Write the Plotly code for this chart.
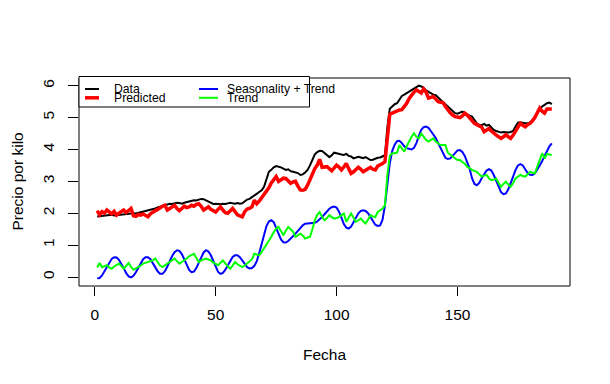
import plotly.graph_objects as go

# ---------------- data ----------------
fecha = list(range(1, 190))

data_vals = [
    1.90, 1.91, 1.92, 1.93, 1.92, 1.94, 1.95, 1.93, 1.94, 1.95,
    1.96, 1.95, 1.97, 1.98, 1.99, 2.00, 1.99, 2.01, 2.02, 2.03,
    2.05, 2.08, 2.10, 2.12, 2.15, 2.18, 2.20, 2.22, 2.25, 2.28,
    2.30, 2.29, 2.31, 2.33, 2.32, 2.30, 2.33, 2.35, 2.37, 2.40,
    2.41, 2.40, 2.43, 2.45, 2.44, 2.40, 2.35, 2.31, 2.29, 2.30,
    2.29, 2.28, 2.30, 2.29, 2.31, 2.33, 2.31, 2.30, 2.32, 2.30,
    2.31, 2.36, 2.43, 2.45, 2.50, 2.57, 2.62, 2.66, 2.72, 2.83,
    3.05, 3.30, 3.36, 3.44, 3.48, 3.47, 3.44, 3.40, 3.36, 3.38,
    3.32, 3.30, 3.28, 3.26, 3.20, 3.22, 3.28, 3.36, 3.50, 3.68,
    3.85, 3.92, 3.96, 3.95, 3.88, 3.80, 3.76, 3.82, 3.90, 3.88,
    3.85, 3.84, 3.83, 3.86, 3.80, 3.78, 3.72, 3.75, 3.77, 3.75,
    3.73, 3.76, 3.70, 3.67, 3.68, 3.72, 3.74, 3.75, 3.78, 3.82,
    4.70, 5.28, 5.35, 5.42, 5.45, 5.55, 5.68, 5.72, 5.77, 5.80,
    5.85, 5.92, 5.96, 6.00, 5.98, 5.93, 5.85, 5.80, 5.76, 5.72,
    5.70, 5.62, 5.55, 5.48, 5.42, 5.35, 5.28, 5.20, 5.14, 5.12,
    5.16, 5.19, 5.15, 5.10, 5.06, 5.03, 4.92, 4.82, 4.77, 4.76,
    4.80, 4.75, 4.77, 4.70, 4.61, 4.58, 4.55, 4.53, 4.55, 4.54,
    4.53, 4.55, 4.58, 4.72, 4.84, 4.85, 4.83, 4.82, 4.82, 4.85,
    4.92, 5.03, 5.15, 5.26, 5.35, 5.40, 5.45, 5.47, 5.42,
]

predicted = [
    2.08, 1.95, 2.05, 2.00, 2.10, 2.03, 1.98, 2.06, 1.94, 2.00,
    2.05, 2.10, 2.02, 2.08, 2.15, 1.92, 1.90, 1.96, 1.94, 1.98,
    1.92, 1.89, 1.98, 2.04, 2.08, 2.12, 2.18, 2.22, 2.25, 2.10,
    2.15, 2.20, 2.25, 2.15, 2.08, 2.15, 2.22, 2.18, 2.20, 2.25,
    2.22, 2.28, 2.30, 2.22, 2.10, 2.15, 2.20, 2.12, 2.08, 2.04,
    2.12, 2.20, 2.10, 2.02, 2.00, 2.08, 2.15, 2.05, 1.95, 1.92,
    1.89, 2.05, 2.13, 2.15, 2.20, 2.41, 2.30, 2.38, 2.48, 2.57,
    2.70, 2.80, 2.95, 3.04, 3.15, 3.00, 3.05, 3.10, 3.09, 3.00,
    2.94, 2.98, 3.00, 2.85, 2.73, 2.72, 2.75, 2.88, 3.05, 3.25,
    3.40, 3.51, 3.69, 3.44, 3.45, 3.46, 3.40, 3.33, 3.42, 3.51,
    3.45, 3.36, 3.45, 3.56, 3.40, 3.25, 3.30, 3.38, 3.44, 3.38,
    3.30, 3.35, 3.40, 3.44, 3.38, 3.36, 3.48, 3.51, 3.56, 3.62,
    4.50, 5.10, 5.14, 5.18, 5.22, 5.24, 5.25, 5.35, 5.45, 5.60,
    5.71, 5.80, 5.87, 5.82, 5.77, 5.90, 5.80, 5.61, 5.64, 5.66,
    5.58, 5.50, 5.48, 5.47, 5.35, 5.24, 5.15, 5.08, 5.03, 5.02,
    5.00, 5.05, 5.14, 5.08, 4.98, 4.90, 4.82, 4.78, 4.73, 4.70,
    4.56, 4.62, 4.66, 4.58, 4.50, 4.45, 4.40, 4.35, 4.40, 4.46,
    4.40, 4.35, 4.45, 4.56, 4.70, 4.82, 4.76, 4.71, 4.78, 4.82,
    4.90, 5.00, 5.15, 5.30, 5.20, 5.14, 5.27, 5.28, 5.27,
]

season_trend = [
    -0.04, -0.03, 0.05, 0.18, 0.33, 0.47, 0.57, 0.62, 0.61, 0.54,
    0.42, 0.27, 0.12, 0.02, -0.01, 0.04, 0.15, 0.30, 0.45, 0.56,
    0.62, 0.62, 0.56, 0.45, 0.31, 0.18, 0.10, 0.10, 0.18, 0.33,
    0.50, 0.66, 0.78, 0.84, 0.82, 0.72, 0.56, 0.38, 0.22, 0.15,
    0.17, 0.28, 0.44, 0.62, 0.77, 0.84, 0.80, 0.68, 0.50, 0.31,
    0.16, 0.10, 0.13, 0.23, 0.37, 0.52, 0.63, 0.68, 0.68, 0.62,
    0.52, 0.40, 0.31, 0.27, 0.28, 0.35, 0.50, 0.75, 1.05, 1.35,
    1.60, 1.74, 1.78, 1.72, 1.55, 1.35, 1.18, 1.09, 1.08, 1.13,
    1.20, 1.28, 1.36, 1.45, 1.55, 1.62, 1.67, 1.68, 1.68, 1.68,
    1.70, 1.74, 1.80, 1.88, 1.97, 2.06, 2.14, 2.19, 2.21, 2.18,
    2.05, 1.86, 1.66, 1.55, 1.52, 1.58, 1.72, 1.88, 2.00, 2.07,
    2.09, 2.07, 2.00, 1.88, 1.74, 1.64, 1.60, 1.62, 1.80, 2.25,
    2.90, 3.57, 3.95, 4.15, 4.26, 4.27, 4.20, 4.10, 4.04, 4.02,
    4.00, 4.05, 4.20, 4.42, 4.62, 4.70, 4.72, 4.68, 4.58, 4.48,
    4.36, 4.20, 4.05, 3.88, 3.74, 3.70, 3.72, 3.80, 3.90, 3.97,
    3.98, 3.92, 3.80, 3.62, 3.40, 3.10, 2.92, 2.88, 2.95, 3.10,
    3.24, 3.34, 3.38, 3.34, 3.20, 3.02, 2.82, 2.66, 2.60, 2.62,
    2.75, 2.93, 3.15, 3.36, 3.50, 3.54, 3.50, 3.38, 3.26, 3.21,
    3.20, 3.25, 3.36, 3.50, 3.64, 3.80, 3.96, 4.10, 4.19,
]

trend = [
    0.30, 0.44, 0.31, 0.35, 0.37, 0.30, 0.26, 0.33, 0.38, 0.42,
    0.34, 0.26, 0.35, 0.44, 0.32, 0.23, 0.27, 0.31, 0.36, 0.42,
    0.44, 0.47, 0.50, 0.52, 0.58, 0.45, 0.36, 0.31, 0.36, 0.42,
    0.48, 0.53, 0.58, 0.50, 0.42, 0.47, 0.52, 0.58, 0.65, 0.70,
    0.73, 0.60, 0.47, 0.52, 0.56, 0.58, 0.55, 0.52, 0.45, 0.40,
    0.37, 0.45, 0.52, 0.42, 0.33, 0.26, 0.36, 0.47, 0.40, 0.35,
    0.31, 0.36, 0.42, 0.47, 0.55, 0.73, 0.70, 0.68, 0.78, 0.89,
    1.02, 1.15, 1.26, 1.40, 1.52, 1.57, 1.45, 1.31, 1.45, 1.57,
    1.50, 1.42, 1.26, 1.30, 1.36, 1.30, 1.21, 1.24, 1.26, 1.50,
    1.78, 1.95, 2.04, 1.88, 1.78, 1.85, 1.94, 1.88, 1.83, 1.85,
    1.88, 1.94, 1.99, 1.73, 1.85, 1.99, 1.86, 1.73, 1.78, 1.83,
    1.75, 1.68, 1.80, 1.94, 1.90, 1.88, 2.04, 2.10, 2.15, 2.25,
    3.20, 3.80, 3.88, 3.88, 3.90, 4.14, 4.05, 3.93, 4.10, 4.28,
    4.40, 4.51, 4.40, 4.35, 4.51, 4.40, 4.30, 4.25, 4.30, 4.35,
    4.25, 4.19, 4.14, 4.14, 4.14, 3.90, 3.83, 3.77, 3.72, 3.67,
    3.67, 3.61, 3.55, 3.46, 3.40, 3.36, 3.33, 3.30, 3.22, 3.15,
    3.18, 3.20, 3.10, 3.04, 3.06, 3.09, 2.95, 2.83, 2.92, 2.99,
    2.90, 2.83, 2.95, 3.09, 3.15, 3.20, 3.17, 3.15, 3.22, 3.30,
    3.27, 3.25, 3.46, 3.70, 3.88, 3.72, 3.86, 3.84, 3.83,
]

x_ticks = [0, 50, 100, 150]
y_ticks = [0, 1, 2, 3, 4, 5, 6]

series_names = ["Data", "Predicted", "Seasonality + Trend", "Trend"]
series_colors = ["#000000", "#FF0000", "#0000FF", "#00FF00"]
series_widths = [2, 3.5, 2, 2]

for s in (data_vals, predicted, season_trend, trend):
    assert len(s) == len(fecha), len(s)

# ---------------- figure ----------------
# the page body has an 8px margin, so the figure is drawn 8px in from the
# top-left corner of the window; size and margins compensate for that.
OFF = 8
W, H = 610 - OFF, 384 - OFF
ML, MR, MT, MB = 79 - OFF, 40, 78 - OFF, 98
PW, PH = W - ML - MR, H - MT - MB
FONT = "Liberation Sans, Arial, Helvetica, sans-serif"


def px(xp):
    """window pixel x -> paper x"""
    return (xp - OFF - ML) / PW


def py(yp):
    """window pixel y -> paper y"""
    return (H - MB - (yp - OFF)) / PH


fig = go.Figure()
for vals, name, col, lw in zip((data_vals, predicted, season_trend, trend),
                               series_names, series_colors, series_widths):
    fig.add_trace(go.Scatter(x=fecha, y=vals, mode="lines", name=name,
                             line=dict(color=col, width=lw), showlegend=False))

xmin, xmax = min(fecha), max(fecha)
allv = data_vals + predicted + season_trend + trend
ymin, ymax = min(allv), max(allv)
xr = [xmin - 0.04 * (xmax - xmin), xmax + 0.04 * (xmax - xmin)]
yr = [ymin - 0.04 * (ymax - ymin), ymax + 0.04 * (ymax - ymin)]

fig.update_layout(
    width=W, height=H,
    margin=dict(l=ML, r=MR, t=MT, b=MB, pad=0, autoexpand=False),
    paper_bgcolor="white", plot_bgcolor="white",
    font=dict(family=FONT, color="black", size=15.5),
    showlegend=False,
    xaxis=dict(range=xr, tickvals=x_ticks, ticktext=[str(v) for v in x_ticks],
               ticks="outside", ticklen=9, tickwidth=1, tickcolor="black",
               showgrid=False, zeroline=False, showline=False, automargin=False,
               tickfont=dict(size=15.5), ticklabelstandoff=5),
    yaxis=dict(range=yr, tickvals=y_ticks, ticktext=[str(v) for v in y_ticks],
               ticks="outside", ticklen=10, tickwidth=1, tickcolor="black",
               showgrid=False, zeroline=False, showline=False, tickangle=-90,
               automargin=False,
               tickfont=dict(size=15.5), ticklabelstandoff=8),
)

# plot frame
fig.add_shape(type="rect", xref="paper", yref="paper", x0=0, x1=1, y0=0, y1=1,
              line=dict(color="black", width=1), layer="above")

# legend box
fig.add_shape(type="rect", xref="paper", yref="paper",
              x0=px(79), x1=px(309.5), y0=py(107), y1=py(76.5),
              line=dict(color="black", width=1), fillcolor="white", layer="above")

leg = [
    (85, 99, 111.5, 89.0),
    (85, 99, 111.5, 97.8),
    (199, 218, 225, 89.0),
    (199, 218, 225, 97.8),
]
for (x0, x1, tx, ty), name, col, lw in zip(leg, series_names, series_colors, series_widths):
    fig.add_shape(type="line", xref="paper", yref="paper",
                  x0=px(x0), x1=px(x1), y0=py(ty), y1=py(ty),
                  line=dict(color=col, width=lw), layer="above")
    fig.add_annotation(x=px(tx), y=py(ty), xref="paper", yref="paper",
                       text=name, showarrow=False, xanchor="left", yanchor="middle",
                       font=dict(size=12.2, family=FONT, color="black"))

# axis titles
fig.add_annotation(x=px(324), y=py(354), xref="paper", yref="paper", text="Fecha",
                   showarrow=False, xanchor="center", yanchor="middle",
                   font=dict(size=15.5, family=FONT))
fig.add_annotation(x=px(17), y=py(181.5), xref="paper", yref="paper",
                   text="Precio por kilo", textangle=-90,
                   showarrow=False, xanchor="center", yanchor="middle",
                   font=dict(size=15.5, family=FONT))

fig.write_html("out.html")
